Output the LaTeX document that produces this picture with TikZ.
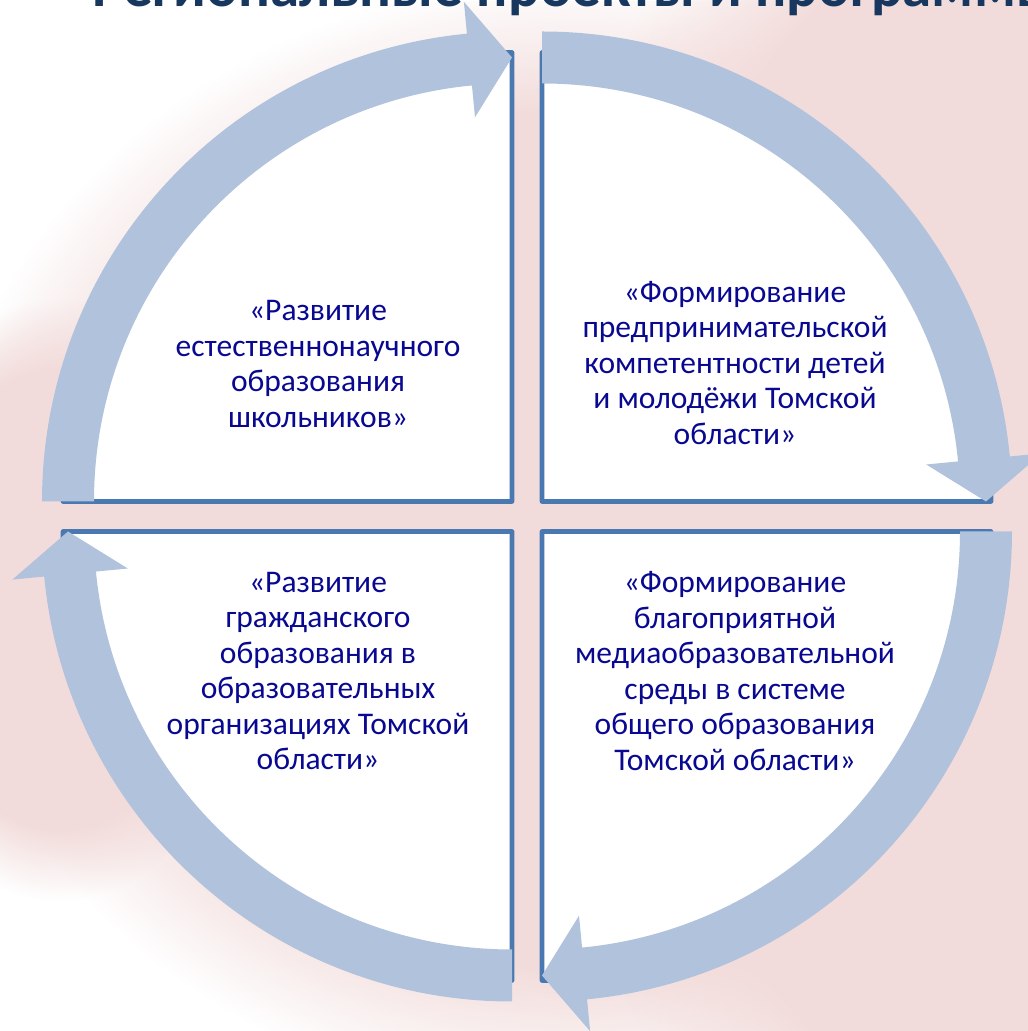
\documentclass[tikz,border=0pt]{standalone}
\usepackage{fontspec}
\setmainfont{Carlito}
\usetikzlibrary{calc,fadings}
\definecolor{ringc}{RGB}{177,194,220}
\definecolor{pinkbg}{RGB}{242,220,219}
\definecolor{quadline}{RGB}{74,120,176}
\definecolor{txtc}{RGB}{8,8,145}
\definecolor{titlec}{RGB}{23,55,94}
\pgfdeclareradialshading{glowshade}{\pgfpointorigin}{color(0bp)=(white); color(38bp)=(white); color(50bp)=(black); color(100bp)=(black)}
\pgfdeclarefading{glowfade}{\pgfuseshading{glowshade}}
\tikzset{
  quad/.style={fill=white, draw=quadline, line width=4.7pt, line join=round, line cap=round},
  lbl/.style={font=\fontsize{31.5}{35.5}\selectfont, text=txtc, align=center, inner sep=0pt},
  ringarrow/.style={fill=ringc, draw=none}
}
\begin{document}
\begin{tikzpicture}[x=1pt,y=1pt]
\useasboundingbox (0,0) rectangle (1028,1031);
\clip (0,0) rectangle (1028,1031);
\fill[white] (0,0) rectangle (1028,1031);
% background glow
\fill[pinkbg, path fading=glowfade, fit fading=false, fading transform={shift={(580,491)}, xscale=12.8, yscale=11.2}] (0,0) rectangle (1028,1031);
\fill[pinkbg, path fading=glowfade, fit fading=false, fading transform={shift={(1028,511)}, xscale=10, yscale=16}] (0,0) rectangle (1028,1031);
\fill[pinkbg, path fading=glowfade, fit fading=false, fading transform={shift={(60,431)}, xscale=4, yscale=6}] (0,0) rectangle (1028,1031);
% title
\node[anchor=base west, font=\fontsize{59}{60}\selectfont\bfseries, text=titlec, inner sep=0pt] (title) at (92,1024) {Региональные проекты и программы};
% quadrant centres
\coordinate (c1) at (512,529.5);
\coordinate (c2) at (542,529.5);
\coordinate (c3) at (542,499.5);
\coordinate (c4) at (512,499.5);
% quadrants
\path[quad] (c1) -- ++(180:449) arc[start angle=180, end angle=90, radius=449] -- cycle;
\path[quad] (c2) -- ++(90:449) arc[start angle=90, end angle=0, radius=449] -- cycle;
\path[quad] (c3) -- ++(0:449) arc[start angle=0, end angle=-90, radius=449] -- cycle;
\path[quad] (c4) -- ++(-90:449) arc[start angle=-90, end angle=-180, radius=449] -- cycle;
% circular arrows
\foreach \c/\s in {c1/180, c2/90, c3/0, c4/-90} {
  \pgfmathsetmacro\b{\s-84.5}
  \pgfmathsetmacro\t{\s-90}
  \fill[ringarrow] ($(\c)+(\s:470)$) arc[start angle=\s, end angle=\b, radius=470]
    -- ($(\c)+(\b:502)$) -- ($(\c)+(\t:444)$) -- ($(\c)+(\b:386)$) -- ($(\c)+(\b:418)$)
    arc[start angle=\b, end angle=\s, radius=418] -- cycle;
}
% labels
\node[lbl] (t1) at (318,667) {«Развитие\\естественнонаучного\\образования\\школьников»};
\node[lbl] (t2) at (735,668) {«Формирование\\предпринимательской\\компетентности детей\\и молодёжи Томской\\области»};
\node[lbl] (t3) at (735,360) {«Формирование\\благоприятной\\медиаобразовательной\\среды в системе\\общего образования\\Томской области»};
\node[lbl] (t4) at (318,360) {«Развитие\\гражданского\\образования в\\образовательных\\организациях Томской\\области»};
\end{tikzpicture}
\end{document}
